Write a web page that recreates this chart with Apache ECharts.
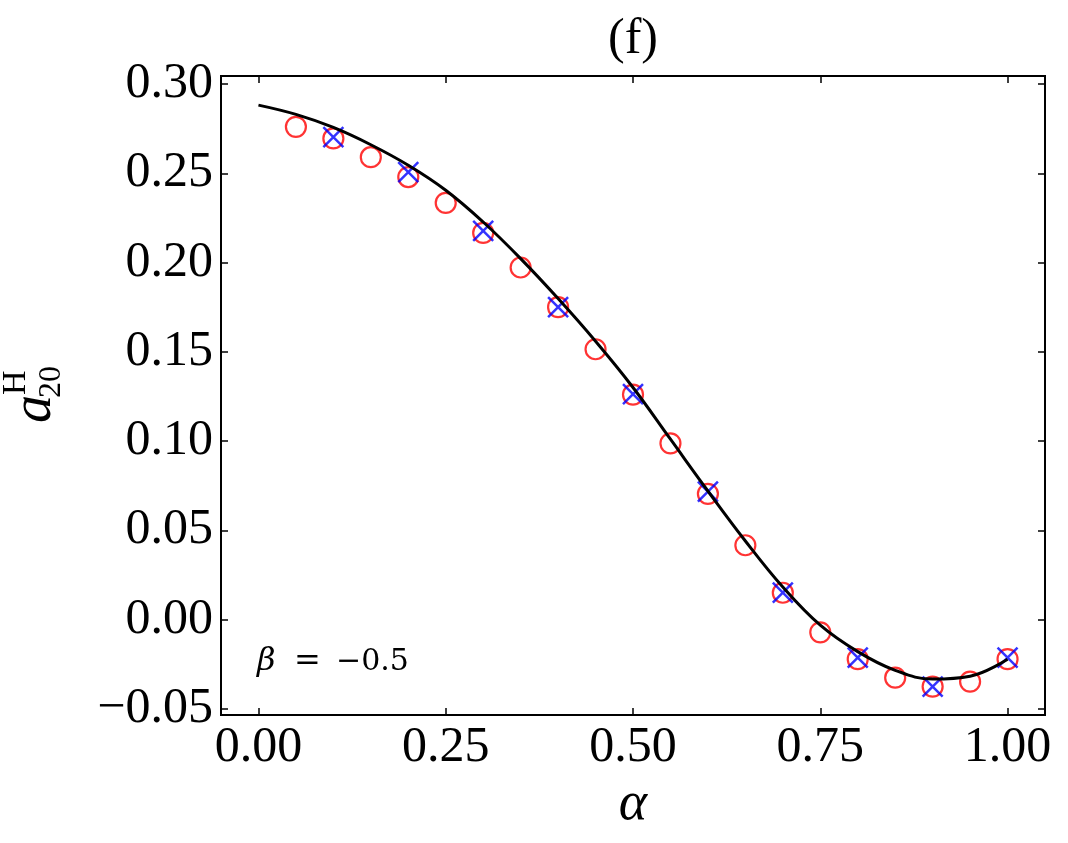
<!DOCTYPE html>
<html>
<head>
<meta charset="utf-8">
<script src="https://cdn.jsdelivr.net/npm/echarts@6/dist/echarts.min.js"></script>
<style>
  html, body { margin: 0; padding: 0; background: #fff; }
  #chart { width: 1068px; height: 843px; }
</style>
</head>
<body>
<div id="chart"></div>
<script>
// curve (solid black line)
var alphaLine = [0, 0.05, 0.10, 0.15, 0.20, 0.25, 0.30, 0.35, 0.40, 0.45, 0.50,
                 0.55, 0.60, 0.65, 0.70, 0.75, 0.80, 0.85, 0.90, 0.95, 1.00];
var lineVals = [0.2882, 0.2830, 0.2757, 0.2660, 0.2545, 0.2405, 0.2227, 0.2022, 0.1798, 0.1559, 0.1300,
                0.1010, 0.0720, 0.0440, 0.0182, -0.0032, -0.0180, -0.0285, -0.0334, -0.0318, -0.0223];

// red open circles
var alphaCircle = [0.05, 0.10, 0.15, 0.20, 0.25, 0.30, 0.35, 0.40, 0.45, 0.50,
                   0.55, 0.60, 0.65, 0.70, 0.75, 0.80, 0.85, 0.90, 0.95, 1.00];
var circleVals = [0.2760, 0.2695, 0.2590, 0.2479, 0.2334, 0.2166, 0.1972, 0.1750, 0.1514, 0.1260,
                  0.0987, 0.0704, 0.0416, 0.0150, -0.0072, -0.0222, -0.0326, -0.0376, -0.0348, -0.0222];

// blue crosses
var alphaCross = [0.1, 0.2, 0.3, 0.4, 0.5, 0.6, 0.7, 0.8, 0.9, 1.0];
var crossVals = [0.2703, 0.2507, 0.2177, 0.1750, 0.1263, 0.0716, 0.0150, -0.0214, -0.0376, -0.0214];

var xTicks = [0, 0.25, 0.5, 0.75, 1.0];
var yTicks = [-0.05, 0, 0.05, 0.10, 0.15, 0.20, 0.25, 0.30];

function pairs(xs, ys) {
  return xs.map(function (x, i) { return [x, ys[i]]; });
}

var serif = 'Liberation Serif';
var tickStyle = { inside: true, length: 7, lineStyle: { color: '#000', width: 1.5 } };
var noLine = { show: false, onZero: false };

function fmt(v) {
  var s = Math.abs(v).toFixed(2);
  return v < -1e-9 ? '\u2212' + s : s;
}

var option = {
  backgroundColor: '#fff',
  animation: false,
  grid: {
    left: 221, right: 23, top: 76, bottom: 128,
    show: true, borderColor: '#000', borderWidth: 2, backgroundColor: 'transparent'
  },
  xAxis: [
    {
      type: 'value', min: -0.05, max: 1.05, position: 'bottom',
      splitLine: { show: false },
      axisLine: noLine,
      axisTick: Object.assign({ customValues: xTicks }, tickStyle),
      axisLabel: {
        customValues: xTicks, formatter: fmt, margin: 8,
        fontFamily: serif, fontSize: 50, color: '#000'
      }
    },
    {
      type: 'value', min: -0.05, max: 1.05, position: 'top',
      splitLine: { show: false },
      axisLine: noLine,
      axisTick: Object.assign({ customValues: xTicks }, tickStyle),
      axisLabel: { show: false }
    }
  ],
  yAxis: [
    {
      type: 'value', min: -0.0535, max: 0.3045, position: 'left',
      splitLine: { show: false },
      axisLine: noLine,
      axisTick: Object.assign({ customValues: yTicks }, tickStyle),
      axisLabel: {
        customValues: yTicks, formatter: fmt, margin: 8,
        fontFamily: serif, fontSize: 50, color: '#000'
      }
    },
    {
      type: 'value', min: -0.0535, max: 0.3045, position: 'right',
      splitLine: { show: false },
      axisLine: noLine,
      axisTick: Object.assign({ customValues: yTicks }, tickStyle),
      axisLabel: { show: false }
    }
  ],
  series: [
    {
      type: 'scatter',
      data: pairs(alphaCircle, circleVals),
      symbol: 'circle',
      symbolSize: 20,
      itemStyle: { color: 'rgba(0,0,0,0)', borderColor: '#ff0000', borderWidth: 2.2 }
    },
    {
      type: 'scatter',
      data: pairs(alphaCross, crossVals),
      symbol: 'path://M0,0L10,10M10,0L0,10',
      symbolSize: 20,
      itemStyle: { color: 'rgba(0,0,0,0)', borderColor: '#0000ff', borderWidth: 2.5 }
    },
    {
      type: 'line',
      data: pairs(alphaLine, lineVals),
      smooth: 0.4,
      showSymbol: false,
      lineStyle: { color: '#000', width: 3 }
    }
  ],
  graphic: [
    {
      type: 'text', x: 633, y: 40,
      style: { text: '(f)', font: '50px "Liberation Serif"', fill: '#000', align: 'center', verticalAlign: 'middle' }
    },
    {
      type: 'text', x: 633, y: 805,
      style: { text: '\u03b1', font: 'italic 54px "Liberation Serif"', fill: '#000', align: 'center', verticalAlign: 'middle' }
    },
    {
      type: 'group', x: 52, y: 423, rotation: Math.PI / 2,
      children: [
        { type: 'text', x: 0, y: -17, style: { text: 'a', font: 'italic 56px "Liberation Serif"', fill: '#000', align: 'left', verticalAlign: 'middle' } },
        { type: 'text', x: 28, y: -36, style: { text: 'H', font: '34px "Liberation Serif"', fill: '#000', align: 'left', verticalAlign: 'middle' } },
        { type: 'text', x: 25, y: 0, style: { text: '20', font: '32px "Liberation Serif"', fill: '#000', align: 'left', verticalAlign: 'middle' } }
      ]
    },
    {
      type: 'text', x: 257, y: 662,
      style: { text: '\u03b2', font: 'italic 32px "DejaVu Serif"', fill: '#000', align: 'left', verticalAlign: 'middle' }
    },
    {
      type: 'text', x: 294, y: 662,
      style: { text: '=', font: '32px "DejaVu Serif"', fill: '#000', align: 'left', verticalAlign: 'middle' }
    },
    {
      type: 'text', x: 336, y: 662,
      style: { text: '\u22120.5', font: '30px "DejaVu Serif"', fill: '#000', align: 'left', verticalAlign: 'middle' }
    }
  ]
};

var myChart = echarts.init(document.getElementById('chart'));
myChart.setOption(option);
</script>
</body>
</html>
